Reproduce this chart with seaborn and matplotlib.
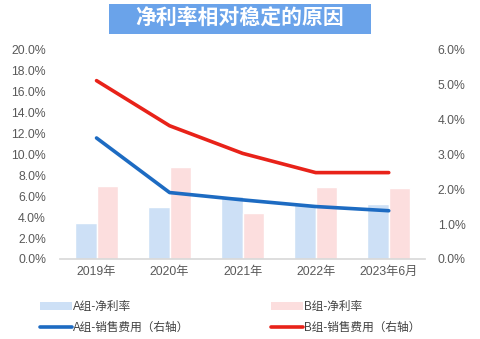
import numpy as np
import pandas as pd
import matplotlib
matplotlib.use("Agg")
import matplotlib.pyplot as plt
from matplotlib.patches import Patch, Rectangle
from matplotlib.lines import Line2D
from matplotlib.ticker import FuncFormatter, MultipleLocator
import seaborn as sns

# Data
periods = ["2019年", "2020年", "2021年", "2022年", "2023年6月"]
a_net_margin = [3.4, 5.0, 6.0, 5.2, 5.2]        # %, left axis
b_net_margin = [7.0, 8.8, 4.4, 6.9, 6.8]        # %, left axis
a_sales_expense = [3.46, 1.90, 1.69, 1.50, 1.38]  # %, right axis
b_sales_expense = [5.10, 3.81, 3.02, 2.47, 2.47]  # %, right axis
bar_labels = ["A组-净利率", "B组-净利率"]
line_labels = ["A组-销售费用（右轴）", "B组-销售费用（右轴）"]
title = "净利率相对稳定的原因"

sns.set_theme(style="white")
plt.rcParams["font.family"] = ["Liberation Sans", "Noto Sans CJK SC", "DejaVu Sans"]

bar_colors = ["#cde0f6", "#fcdede"]
line_colors = ["#1d6bc2", "#e82219"]
tick_color = "#595959"

bars = pd.DataFrame({
    "period": periods * 2,
    "value": a_net_margin + b_net_margin,
    "series": [bar_labels[0]] * len(periods) + [bar_labels[1]] * len(periods),
})
lines = pd.DataFrame({
    "pos": list(range(len(periods))) * 2,
    "value": a_sales_expense + b_sales_expense,
    "series": [line_labels[0]] * len(periods) + [line_labels[1]] * len(periods),
})

fig = plt.figure(figsize=(4.8, 3.39), dpi=100)
ax = fig.add_axes([0.125, 0.236, 0.761, 0.619])

sns.barplot(data=bars, x="period", y="value", hue="series", order=periods,
            palette=bar_colors, width=0.59, ax=ax, legend=False, saturation=1)
ax.set_ylim(0, 20)
ax.set_xlim(-0.5, len(periods) - 0.5)
ax.yaxis.set_major_locator(MultipleLocator(2))
ax.yaxis.set_major_formatter(FuncFormatter(lambda v, _: f"{v:.1f}%"))
ax.set_xlabel("")
ax.set_ylabel("")

ax2 = ax.twinx()
sns.lineplot(data=lines, x="pos", y="value", hue="series", palette=line_colors,
             linewidth=2.6, ax=ax2, legend=False)
ax2.set_ylim(0, 6)
ax2.set_xlim(-0.5, len(periods) - 0.5)
ax2.yaxis.set_major_locator(MultipleLocator(1))
ax2.yaxis.set_major_formatter(FuncFormatter(lambda v, _: f"{v:.1f}%"))
ax2.set_xlabel("")
ax2.set_ylabel("")

for a in (ax, ax2):
    for side in ("top", "left", "right"):
        a.spines[side].set_visible(False)
    a.spines["bottom"].set_color("#d9d9d9")
    a.tick_params(axis="both", length=0, labelsize=8.8, colors=tick_color)
    a.grid(False)
ax.tick_params(axis="y", pad=10)
ax2.tick_params(axis="y", pad=9)
ax.tick_params(axis="x", pad=5)
ax2.spines["bottom"].set_visible(False)

# Title banner
fig.patches.append(Rectangle((109 / 480, 1 - 34 / 339), 262 / 480, 30 / 339,
                             transform=fig.transFigure, facecolor="#6aa3ea",
                             edgecolor="none", zorder=0))
fig.text(0.5, 1 - 19 / 339, title, ha="center", va="center", color="white",
         fontsize=15, fontweight="bold")

handles = [
    Patch(facecolor=bar_colors[0], edgecolor="none"),
    Line2D([], [], color=line_colors[0], linewidth=2.6),
    Patch(facecolor=bar_colors[1], edgecolor="none"),
    Line2D([], [], color=line_colors[1], linewidth=2.6),
]
labels = [bar_labels[0], line_labels[0], bar_labels[1], line_labels[1]]
fig.legend(handles, labels, ncol=2, loc="upper left",
           bbox_to_anchor=(40 / 480, 1 - 301 / 339), borderpad=0, borderaxespad=0,
           frameon=False, fontsize=8.4, handlelength=2.7, handleheight=0.6,
           handletextpad=0.15, columnspacing=7.0, labelspacing=0.75,
           labelcolor="#404040")

fig.savefig("out.png", dpi=100)
